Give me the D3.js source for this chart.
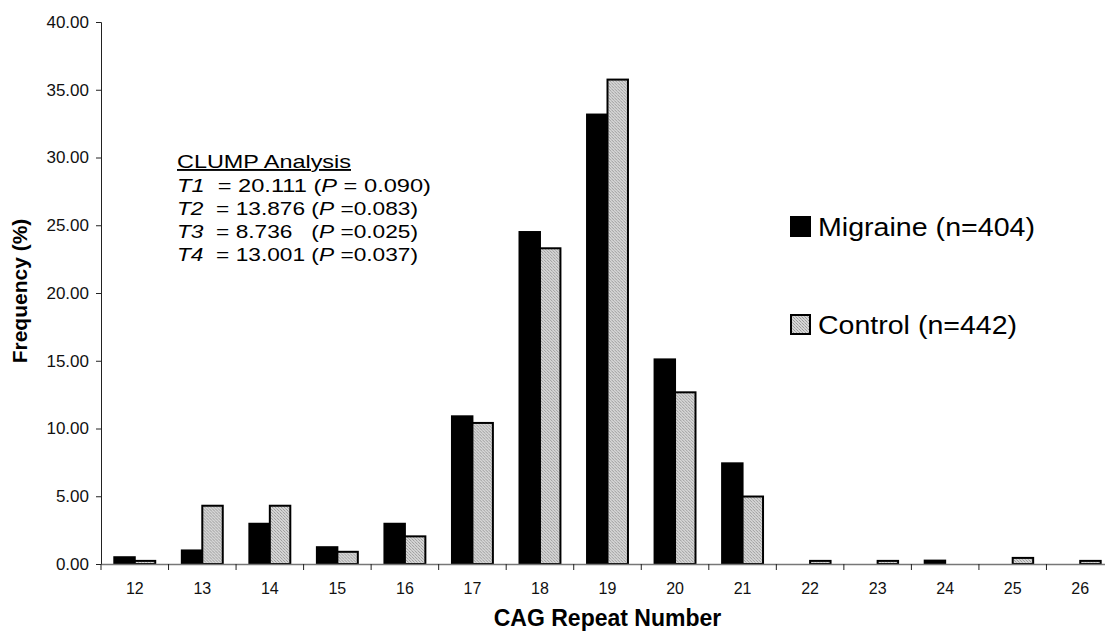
<!DOCTYPE html>
<html>
<head>
<meta charset="utf-8">
<script src="https://cdn.jsdelivr.net/npm/d3@7"></script>
<style>
  body { margin: 0; background: #fff; }
  svg { display: block; font-family: Arial, "Liberation Sans", sans-serif; }
</style>
</head>
<body>
<div id="chart"></div>
<script>
// CAG repeat number categories
const repeats = ['12', '13', '14', '15', '16', '17', '18', '19', '20', '21', '22', '23', '24', '25', '26'];
// allele frequencies (%)
const migraine = [0.50, 1.00, 2.97, 1.24, 2.97, 10.90, 24.50, 33.17, 15.10, 7.43, 0, 0, 0.25, 0, 0];
const control = [0.23, 4.30, 4.30, 0.90, 2.04, 10.41, 23.30, 35.75, 12.67, 4.98, 0.23, 0.23, 0, 0.45, 0.23];
const seriesNames = ['Migraine (n=404)', 'Control (n=442)'];
const yTicks = [0, 5, 10, 15, 20, 25, 30, 35, 40];
const clumpLines = [
  ['T1', '  = 20.111 (', 'P', ' = 0.090)'],
  ['T2', '  = 13.876 (', 'P', ' =0.083)'],
  ['T3', '  = 8.736   (', 'P', ' =0.025)'],
  ['T4', '  = 13.001 (', 'P', ' =0.037)'],
];

const width = 1105, height = 633;
const margin = { left: 101, top: 22, bottom: 69 };
const plotRight = 1114; // the plot runs a little past the right edge
const font = 'Arial, "Liberation Sans", sans-serif';

const svg = d3.select('#chart').append('svg')
  .attr('width', width)
  .attr('height', height);

// grey dotted fill used by the control bars
const defs = svg.append('defs');
const pat = defs.append('pattern')
  .attr('id', 'dots')
  .attr('width', 3)
  .attr('height', 3)
  .attr('patternUnits', 'userSpaceOnUse');
pat.append('rect').attr('width', 3).attr('height', 3).attr('fill', '#d6d6d6');
pat.append('rect').attr('x', 0).attr('y', 0).attr('width', 1).attr('height', 1).attr('fill', '#9a9a9a');
pat.append('rect').attr('x', 1).attr('y', 1).attr('width', 1).attr('height', 1).attr('fill', '#b0b0b0');
pat.append('rect').attr('x', 2).attr('y', 2).attr('width', 1).attr('height', 1).attr('fill', '#9a9a9a');

const x = d3.scaleBand().domain(repeats).range([margin.left, plotRight]).paddingInner(0).paddingOuter(0);
const xs = d3.scaleBand().domain([0, 1]).range([0, x.bandwidth()]).paddingInner(0).paddingOuter(0.65);
const y = d3.scaleLinear().domain([0, 40]).range([height - margin.bottom, margin.top]);

const fills = ['#000', 'url(#dots)'];
const rows = repeats.map((r, i) => ({ r, vals: [migraine[i], control[i]] }));

// bars
const groups = svg.append('g')
  .selectAll('g')
  .data(rows)
  .join('g')
  .attr('transform', (d) => `translate(${x(d.r)},0)`);

groups.selectAll('rect')
  .data((d) => d.vals.map((v, k) => ({ v, k })).filter((e) => e.v > 0))
  .join('rect')
  .attr('x', (e) => xs(e.k))
  .attr('width', xs.bandwidth())
  .attr('y', (e) => y(e.v))
  .attr('height', (e) => y(0) - y(e.v))
  .attr('fill', (e) => fills[e.k])
  .attr('stroke', '#000')
  .attr('stroke-width', 2);

// y axis
const yAxis = svg.append('g')
  .attr('transform', `translate(${margin.left},0)`)
  .call(d3.axisLeft(y).tickValues(yTicks).tickFormat(d3.format('.2f')).tickSize(5).tickPadding(7));
yAxis.select('.domain').attr('stroke', '#222');
yAxis.selectAll('.tick line').attr('stroke', '#222');
yAxis.selectAll('text').attr('font-size', 17).attr('fill', '#111').attr('font-family', font);

// x axis
const xAxis = svg.append('g')
  .attr('transform', `translate(0,${y(0)})`)
  .call(d3.axisBottom(x).tickSize(0).tickPadding(19));
xAxis.select('.domain').attr('stroke', '#777').attr('stroke-width', 1.5);
xAxis.selectAll('text').attr('font-size', 16).attr('fill', '#111').attr('font-family', font);

// separator ticks between categories
svg.append('g')
  .selectAll('line')
  .data(repeats)
  .join('line')
  .attr('x1', (d) => x(d))
  .attr('x2', (d) => x(d))
  .attr('y1', y(0))
  .attr('y2', y(0) + 6)
  .attr('stroke', '#222');

// axis titles
svg.append('text')
  .attr('x', (margin.left + plotRight) / 2)
  .attr('y', 626)
  .attr('text-anchor', 'middle')
  .attr('font-weight', 'bold')
  .attr('font-size', 23)
  .text('CAG Repeat Number');

svg.append('text')
  .attr('transform', `translate(27,${y(20) - 2}) rotate(-90)`)
  .attr('text-anchor', 'middle')
  .attr('font-weight', 'bold')
  .attr('font-size', 21)
  .text('Frequency (%)');

// CLUMP annotation (the source is stretched sideways, so widths are fixed)
const note = svg.append('g').attr('font-size', 19).attr('fill', '#000');
note.append('text')
  .attr('x', 177)
  .attr('y', 168)
  .attr('text-decoration', 'underline')
  .attr('textLength', 174)
  .attr('lengthAdjust', 'spacingAndGlyphs')
  .text('CLUMP Analysis');
note.selectAll('text.line')
  .data(clumpLines)
  .join('text')
  .attr('class', 'line')
  .attr('x', 177)
  .attr('y', (d, i) => 192 + i * 23)
  .attr('textLength', (d, i) => (i === 0 ? 254 : 241))
  .attr('lengthAdjust', 'spacingAndGlyphs')
  .style('white-space', 'pre')
  .selectAll('tspan')
  .data((d) => d)
  .join('tspan')
  .attr('font-style', (d, i) => (i % 2 === 0 ? 'italic' : null))
  .text((d) => d);

// legend
const legend = svg.append('g')
  .selectAll('g')
  .data(seriesNames)
  .join('g')
  .attr('transform', (d, i) => `translate(791,${217 + i * 98})`);
legend.append('rect')
  .attr('width', 19)
  .attr('height', 19)
  .attr('fill', (d, i) => fills[i])
  .attr('stroke', '#000')
  .attr('stroke-width', 2);
legend.append('text')
  .attr('x', 27)
  .attr('y', 19)
  .attr('font-size', 25)
  .attr('textLength', (d, i) => (i === 0 ? 217 : 199))
  .attr('lengthAdjust', 'spacingAndGlyphs')
  .text((d) => d);
</script>
</body>
</html>
